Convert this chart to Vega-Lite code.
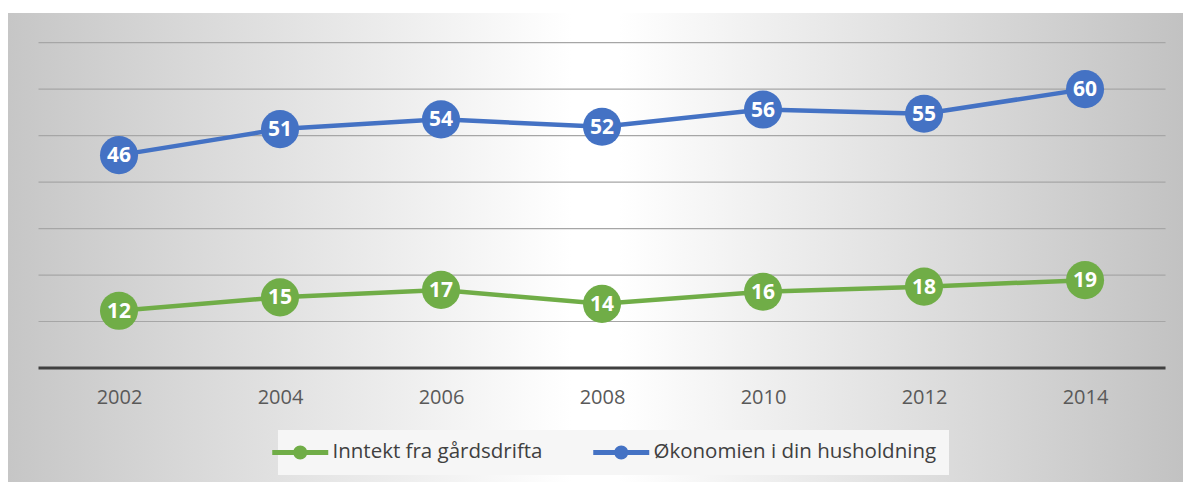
{
  "$schema": "https://vega.github.io/schema/vega-lite/v6.json",
  "width": 1175,
  "height": 469,
  "autosize": {"type": "none"},
  "padding": {"left": 8, "top": 13, "right": 0, "bottom": 0},
  "background": "white",
  "config": {
    "view": {
      "stroke": null,
      "fill": {
        "gradient": "linear",
        "x1": 0, "y1": 0.5, "x2": 1, "y2": 0.5,
        "stops": [
          {"offset": 0, "color": "#c6c6c6"},
          {"offset": 0.48, "color": "#ffffff"},
          {"offset": 0.52, "color": "#ffffff"},
          {"offset": 1, "color": "#c2c2c2"}
        ]
      }
    },
    "font": "Open Sans"
  },
  "datasets": {
    "series": [
      {"year": 2002, "serie": "Inntekt fra gårdsdrifta", "value": 12.3},
      {"year": 2004, "serie": "Inntekt fra gårdsdrifta", "value": 15.2},
      {"year": 2006, "serie": "Inntekt fra gårdsdrifta", "value": 16.8},
      {"year": 2008, "serie": "Inntekt fra gårdsdrifta", "value": 13.8},
      {"year": 2010, "serie": "Inntekt fra gårdsdrifta", "value": 16.4},
      {"year": 2012, "serie": "Inntekt fra gårdsdrifta", "value": 17.5},
      {"year": 2014, "serie": "Inntekt fra gårdsdrifta", "value": 18.9},
      {"year": 2002, "serie": "Økonomien i din husholdning", "value": 45.8},
      {"year": 2004, "serie": "Økonomien i din husholdning", "value": 51.4},
      {"year": 2006, "serie": "Økonomien i din husholdning", "value": 53.5},
      {"year": 2008, "serie": "Økonomien i din husholdning", "value": 51.9},
      {"year": 2010, "serie": "Økonomien i din husholdning", "value": 55.6},
      {"year": 2012, "serie": "Økonomien i din husholdning", "value": 54.7},
      {"year": 2014, "serie": "Økonomien i din husholdning", "value": 60.0}
    ],
    "grid": [{"v": 10}, {"v": 20}, {"v": 30}, {"v": 40}, {"v": 50}, {"v": 60}, {"v": 70}],
    "base": [{"v": 0}]
  },
  "layer": [
    {
      "data": {"name": "grid"},
      "mark": {"type": "rule", "color": "#a6a6a6", "strokeWidth": 1.2},
      "encoding": {
        "y": {"field": "v", "type": "quantitative", "scale": {"domain": [-24.53, 76.38], "nice": false, "zero": false}, "axis": null},
        "x": {"datum": 2001, "type": "quantitative"},
        "x2": {"datum": 2015}
      }
    },
    {
      "data": {"name": "base"},
      "mark": {"type": "rule", "color": "#404040", "strokeWidth": 3},
      "encoding": {
        "y": {"field": "v", "type": "quantitative", "axis": null},
        "x": {"datum": 2001, "type": "quantitative"},
        "x2": {"datum": 2015}
      }
    },
    {
      "data": {"name": "series"},
      "encoding": {
        "x": {"field": "year", "type": "quantitative",
          "scale": {"domain": [2000.621, 2015.217], "nice": false, "zero": false},
          "axis": {"values": [2002, 2004, 2006, 2008, 2010, 2012, 2014], "format": "d", "domain": false, "ticks": false, "grid": false, "title": null, "offset": -114, "labelPadding": 19, "labelFontSize": 20, "labelColor": "#595959", "labelFont": "Open Sans"}},
        "y": {"field": "value", "type": "quantitative", "axis": null},
        "color": {"field": "serie", "type": "nominal",
          "scale": {"domain": ["Inntekt fra gårdsdrifta", "Økonomien i din husholdning"], "range": ["#70AD47", "#4472C4"]},
          "legend": {
            "orient": "none", "direction": "horizontal", "legendX": 270, "legendY": 417,
            "title": null, "padding": 12, "fillColor": "#f6f6f6",
            "symbolType": "M-2.8,-0.25L2.8,-0.25L2.8,0.25L-2.8,0.25Z M0.7,0A0.7,0.7,0,1,1,-0.7,0A0.7,0.7,0,1,1,0.7,0Z",
            "symbolSize": 400, "symbolStrokeWidth": 0, "labelOffset": 22, "columnPadding": 50,
            "labelFontSize": 20.5, "labelColor": "#404040", "labelFont": "Open Sans", "labelLimit": 0,
            "encode": {"symbols": {"update": {"fill": {"scale": "color", "field": "value"}, "strokeWidth": {"value": 0}, "opacity": {"value": 1}}}}
          }
        }
      },
      "layer": [
        {"mark": {"type": "line", "strokeWidth": 4.5}},
        {"mark": {"type": "point", "filled": true, "size": 1450, "opacity": 1}},
        {"mark": {"type": "text", "color": "white", "fontWeight": "bold", "fontSize": 21, "font": "Open Sans", "baseline": "middle", "dy": 1},
         "encoding": {"text": {"field": "value", "type": "quantitative", "format": ".0f"}, "color": {"value": "white"}}}
      ]
    }
  ]
}
